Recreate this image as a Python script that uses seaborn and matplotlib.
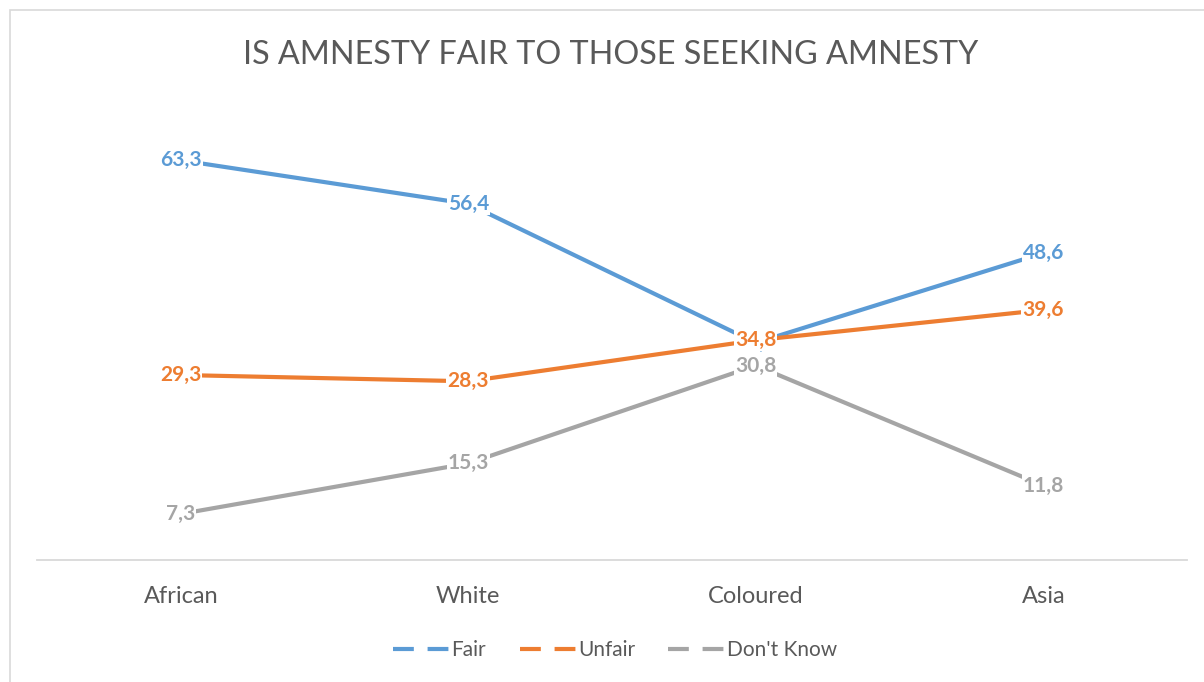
import matplotlib
matplotlib.use("Agg")
import matplotlib.pyplot as plt
from matplotlib.lines import Line2D
from matplotlib.patches import Rectangle
import seaborn as sns
import pandas as pd

# Survey results (%) by population group
groups = ["African", "White", "Coloured", "Asia"]
fair = [63.3, 56.4, 34.4, 48.6]
unfair = [29.3, 28.3, 34.8, 39.6]
dont_know = [7.3, 15.3, 30.8, 11.8]
series_names = ["Fair", "Unfair", "Don't Know"]
colors = ["#5B9BD5", "#ED7D31", "#A5A5A5"]

rows = []
for name, vals in zip(series_names, [fair, unfair, dont_know]):
    for i, (g, v) in enumerate(zip(groups, vals)):
        rows.append({"group": g, "pos": i, "series": name, "value": v})
df = pd.DataFrame(rows)

sns.set_theme(style="white")
plt.rcParams["font.family"] = ["Lato", "DejaVu Sans"]
text_color = "#595959"

fig = plt.figure(figsize=(12.04, 6.82), dpi=100)
W, H = 1204, 682
ax = fig.add_axes([37 / W, 1 - 560 / H, 1150 / W, (560 - 118) / H])

sns.lineplot(data=df, x="pos", y="value", hue="series", hue_order=series_names,
             palette=colors, linewidth=3.0, ax=ax, legend=False)

# Value labels, centred on each point over a white box
for name, vals, c in zip(series_names, [fair, unfair, dont_know], colors):
    for i, v in enumerate(vals):
        ax.text(i, v, f"{v:.1f}".replace(".", ","), color=c, fontsize=15,
                fontweight="bold", ha="center", va="center", zorder=5,
                bbox=dict(boxstyle="square,pad=0.05", fc="white", ec="none"))

ax.set_xlim(-0.5, 3.5)
ax.set_ylim(0, 70)
ax.set_yticks([])
ax.set_xticks(range(len(groups)))
ax.set_xticklabels(groups, fontsize=17, color=text_color)
ax.tick_params(axis="x", length=0, pad=19)
ax.set_xlabel("")
ax.set_ylabel("")
for s in ["top", "left", "right"]:
    ax.spines[s].set_visible(False)
ax.spines["bottom"].set_color("#D9D9D9")
ax.spines["bottom"].set_linewidth(1.3)
ax.patch.set_alpha(0)

fig.text(611 / W, 1 - 55 / H, "IS AMNESTY FAIR TO THOSE SEEKING AMNESTY",
         ha="center", va="center", fontsize=23.3, color=text_color)

# Chart area border
fig.patches.append(Rectangle((10 / W, -0.01), 1.1, 1 - 10 / H + 0.01,
                             transform=fig.transFigure, fill=False,
                             ec="#D9D9D9", lw=1.2))

handles = [Line2D([0], [0], color=c, lw=3, linestyle=(0, (5, 3.3)))
           for c in colors]
fig.legend(handles, series_names, loc="center", bbox_to_anchor=(615 / W, 1 - 650 / H),
           ncol=3, frameon=False, fontsize=15, handlelength=2.7, handletextpad=0.1,
           columnspacing=1.6, labelcolor=text_color)

fig.savefig("out.png", dpi=100)
